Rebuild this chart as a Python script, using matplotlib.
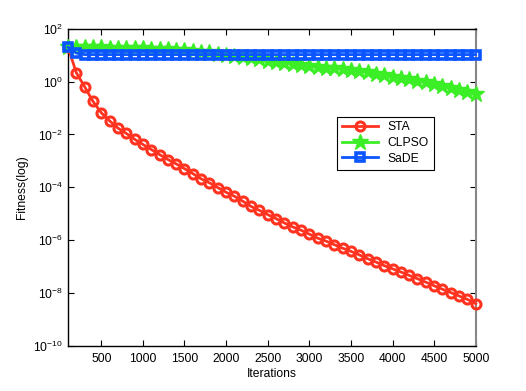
import matplotlib
matplotlib.use("Agg")
import matplotlib.pyplot as plt
from matplotlib.ticker import LogLocator, NullLocator

iterations = [100, 200, 300, 400, 500, 600, 700, 800, 900, 1000,
              1100, 1200, 1300, 1400, 1500, 1600, 1700, 1800, 1900, 2000,
              2100, 2200, 2300, 2400, 2500, 2600, 2700, 2800, 2900, 3000,
              3100, 3200, 3300, 3400, 3500, 3600, 3700, 3800, 3900, 4000,
              4100, 4200, 4300, 4400, 4500, 4600, 4700, 4800, 4900, 5000]

sta = [20.0, 2.15, 0.64, 0.178, 0.066, 0.0327, 0.0174, 0.011, 6.6e-3, 4.2e-3,
       2.7e-3, 1.74e-3, 1.13e-3, 7.7e-4, 5.1e-4, 3.3e-4, 2.1e-4, 1.48e-4, 9.8e-5, 6.5e-5,
       4.6e-5, 3.0e-5, 1.9e-5, 1.35e-5, 9.3e-6, 6.6e-6, 4.5e-6, 3.2e-6, 2.4e-6, 1.7e-6,
       1.2e-6, 9.3e-7, 6.8e-7, 5.0e-7, 3.8e-7, 2.8e-7, 2.0e-7, 1.5e-7, 1.1e-7, 8.3e-8,
       6.3e-8, 4.7e-8, 3.5e-8, 2.6e-8, 1.9e-8, 1.4e-8, 1.05e-8, 7.8e-9, 5.8e-9, 4.0e-9]

clpso = [20.0, 20.0, 20.0, 19.8, 19.6, 19.4, 19.2, 18.8, 18.4, 18.0,
         17.5, 17.0, 16.4, 15.8, 15.1, 14.4, 13.6, 12.8, 11.4, 10.3,
         9.3, 8.4, 7.6, 6.9, 6.2, 5.6, 5.1, 4.7, 4.3, 4.0,
         3.7, 3.4, 3.15, 2.95, 2.75, 2.5, 2.25, 2.0, 1.75, 1.55,
         1.38, 1.22, 1.07, 0.93, 0.80, 0.68, 0.58, 0.49, 0.41, 0.34]

sade = [20.0, 12.0, 10.5, 10.5, 10.5, 10.5, 10.5, 10.5, 10.5, 10.5,
        10.5, 10.5, 10.5, 10.5, 10.5, 10.5, 10.5, 10.5, 10.5, 10.5,
        10.5, 10.5, 10.5, 10.5, 10.5, 10.5, 10.5, 10.5, 10.5, 10.5,
        10.5, 10.5, 10.5, 10.5, 10.5, 10.5, 10.5, 10.5, 10.5, 10.5,
        10.5, 10.5, 10.5, 10.5, 10.5, 10.5, 10.5, 10.5, 10.5, 10.5]

x_ticks = [500, 1000, 1500, 2000, 2500, 3000, 3500, 4000, 4500, 5000]


def main():
  plt.rcParams["font.family"] = "Liberation Sans"
  plt.rcParams["mathtext.fontset"] = "custom"
  plt.rcParams["mathtext.rm"] = "Liberation Sans"
  plt.rcParams["mathtext.it"] = "Liberation Sans"
  plt.rcParams["font.size"] = 8.7

  figure = plt.figure(figsize=(5.26, 3.91), dpi=100)
  axes = figure.add_axes([0.1293, 0.1151, 0.7751, 0.8115])

  axes.plot(iterations, sta, label="STA", color="#ff3320", lw=2,
            marker="o", ms=6.5, mfc="none", mew=2.2, clip_on=False, zorder=3)
  axes.plot(iterations, clpso, label="CLPSO", color="#3cee26", lw=2,
            marker="*", ms=12, mew=1, clip_on=False, zorder=3)
  axes.plot(iterations, sade, label="SaDE", color="#0a55ff", lw=2,
            marker="s", ms=6, mfc="none", mew=2.6, clip_on=False, zorder=3)

  axes.set_yscale("log")
  axes.set_xlim(100, 5000)
  axes.set_ylim(1e-10, 1e2)
  axes.set_xticks(x_ticks)
  axes.yaxis.set_major_locator(LogLocator(base=100.0, numticks=20))
  axes.yaxis.set_minor_locator(NullLocator())
  axes.tick_params(direction="in", top=True, right=True, length=4, width=0.8)
  axes.tick_params(axis="x", pad=5)
  for side in ["left", "top", "bottom"]:
    axes.spines[side].set_linewidth(1.0)
  axes.spines["right"].set_color("#888888")
  axes.spines["right"].set_linewidth(1.5)

  axes.set_xlabel("Iterations", labelpad=2)
  axes.set_ylabel("Fitness(log)", labelpad=4)

  legend = axes.legend(loc="upper left", bbox_to_anchor=(0.645, 0.742),
                       fancybox=False, framealpha=1, edgecolor="black",
                       handlelength=3.0, borderpad=0.4, labelspacing=0.3)
  legend.get_frame().set_linewidth(0.8)

  plt.savefig("out.png")
  plt.close()


if __name__ == "__main__":
  main()
